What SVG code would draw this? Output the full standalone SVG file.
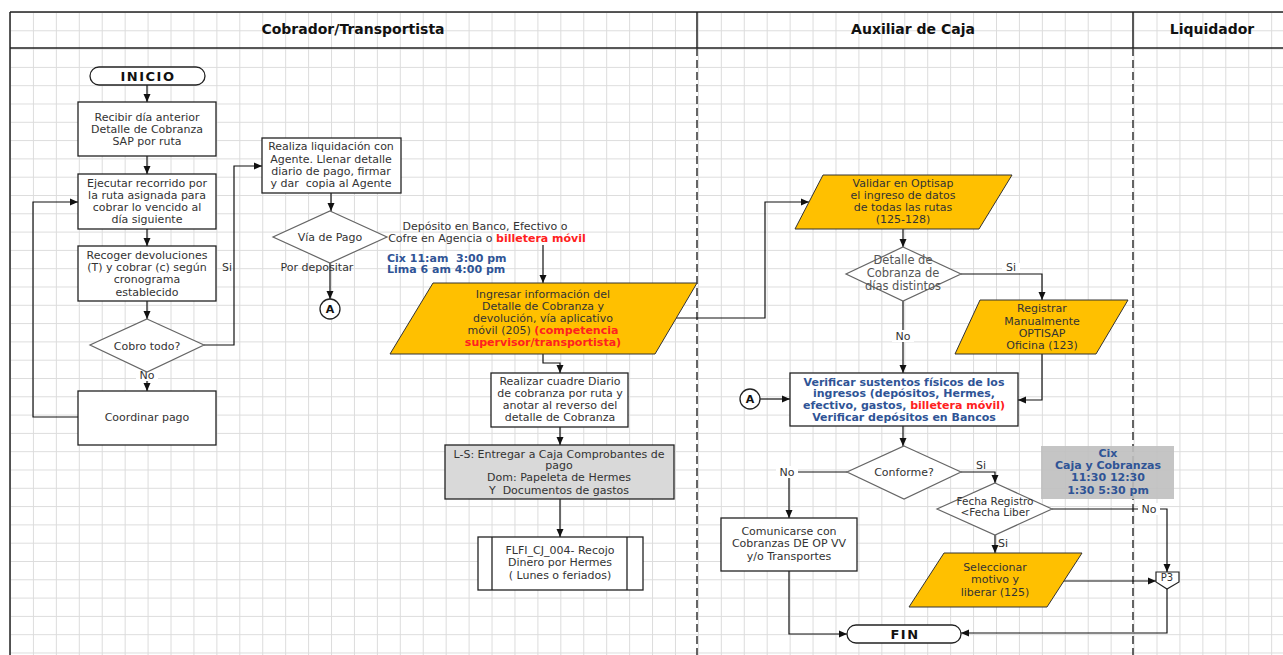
<svg xmlns="http://www.w3.org/2000/svg" width="1283" height="655" viewBox="0 0 1283 655">
<defs>
<pattern id="grid" x="10" y="12" width="22.93" height="18.3" patternUnits="userSpaceOnUse">
<path d="M0,0.5 H22.93 M0.5,0 V18.3" stroke="#dcdcdc" stroke-width="1" fill="none"/>
</pattern>
<marker id="arr" markerWidth="8" markerHeight="8" refX="8" refY="4" orient="auto" markerUnits="userSpaceOnUse">
<path d="M0,0.5 L8,4 L0,7.5 z" fill="#111"/>
</marker>
<style>
text{font-family:"DejaVu Sans","Verdana",sans-serif;font-size:11px;fill:#333;text-anchor:middle;white-space:pre}
.hdr{font-size:14px;font-weight:bold;fill:#111}
.term{font-size:13px;font-weight:bold;fill:#111;letter-spacing:1.5px}
.box{fill:#fff;stroke:#222;stroke-width:1.3}
.dia{fill:#fff;stroke:#666;stroke-width:1.2}
.io{fill:#FFC000;stroke:#333;stroke-width:1}
.gray{fill:#d9d9d9;stroke:#222;stroke-width:1.3}
.note{fill:#bfbfbf;fill-opacity:0.9;stroke:none}
.blue{fill:#2F5496;font-weight:bold}
.red{fill:#FF2020;font-weight:bold}
.lbl{fill:#333}
.lbg{fill:#fff}
.conn path{fill:none;stroke:#111;stroke-width:1.2}
.lane{stroke:#222;stroke-width:1.5}
.dash{stroke:#333;stroke-width:1.5;stroke-dasharray:8,4}
</style>
</defs>
<rect width="1283" height="655" fill="#fff"/>
<rect x="10" y="12" width="1273" height="643" fill="url(#grid)"/>
<g id="lanes">
<line class="lane" x1="10" y1="12" x2="1283" y2="12"/>
<line class="lane" x1="10" y1="48" x2="1283" y2="48"/>
<line class="lane" x1="10" y1="12" x2="10" y2="655"/>
<line class="lane" x1="697" y1="12" x2="697" y2="48"/>
<line class="lane" x1="1133" y1="12" x2="1133" y2="48"/>
<line class="dash" x1="697" y1="48" x2="697" y2="655"/>
<line class="dash" x1="1133" y1="48" x2="1133" y2="655"/>
<text class="hdr" x="353" y="34">Cobrador/Transportista</text>
<text class="hdr" x="913" y="34">Auxiliar de Caja</text>
<text class="hdr" x="1212" y="34">Liquidador</text>
</g>
<g class="conn" id="connectors">
<path d="M147,85 V102" marker-end="url(#arr)"/>
<path d="M147,156 V174" marker-end="url(#arr)"/>
<path d="M147,229 V246" marker-end="url(#arr)"/>
<path d="M147,301 V319" marker-end="url(#arr)"/>
<path d="M147,372 V391" marker-end="url(#arr)"/>
<path d="M78,417 H33 V202 H78" marker-end="url(#arr)"/>
<path d="M204,345 H234 V166 H262" marker-end="url(#arr)"/>
<path d="M331,193 V211" marker-end="url(#arr)"/>
<path d="M330,263 V299" marker-end="url(#arr)"/>
<path d="M543,245 V283" marker-end="url(#arr)"/>
<path d="M543,354 V363 H560 V373" marker-end="url(#arr)"/>
<path d="M676,318 H765 V202 H809" marker-end="url(#arr)"/>
<path d="M560,427 V445" marker-end="url(#arr)"/>
<path d="M560,499 V537" marker-end="url(#arr)"/>
<path d="M903,229 V247" marker-end="url(#arr)"/>
<path d="M961,274 H1042 V300" marker-end="url(#arr)"/>
<path d="M903,301 V373" marker-end="url(#arr)"/>
<path d="M1042,354 V400 H1018" marker-end="url(#arr)"/>
<path d="M760,399 H790" marker-end="url(#arr)"/>
<path d="M903,426 V446" marker-end="url(#arr)"/>
<path d="M847,472 H789 V518" marker-end="url(#arr)"/>
<path d="M789,571 V634 H847" marker-end="url(#arr)"/>
<path d="M961,472 H995 V483" marker-end="url(#arr)"/>
<path d="M995,535 V553" marker-end="url(#arr)"/>
<path d="M1052,509 H1167 V572" marker-end="url(#arr)"/>
<path d="M1064,581 H1156" marker-end="url(#arr)"/>
<path d="M1167,589 V633 H961" marker-end="url(#arr)"/>
<rect class="lbg" x="136" y="369" width="22" height="12"/>
<text class="lbl" x="147" y="379">No</text>
<text class="lbl" x="227" y="271">Si</text>
<rect class="lbg" x="1002" y="263" width="18" height="10"/>
<text class="lbl" x="1011" y="271">Si</text>
<rect class="lbg" x="892" y="330" width="22" height="12"/>
<text class="lbl" x="903" y="340">No</text>
<rect class="lbg" x="776" y="466" width="22" height="12"/>
<text class="lbl" x="787" y="476">No</text>
<text class="lbl" x="981" y="469">Si</text>
<text class="lbl" x="1003" y="547">Si</text>
<rect class="lbg" x="1138" y="503" width="22" height="12"/>
<text class="lbl" x="1149" y="513">No</text>
</g>
<g id="inicio">
<rect x="90" y="67" width="115" height="18" rx="9" class="box"/>
<text class="term" x="148" y="81">INICIO</text>
</g>
<g id="recibir">
<rect class="box" x="78" y="102" width="138" height="54"/>
<text x="147" y="121">Recibir día anterior</text>
<text x="147" y="133">Detalle de Cobranza</text>
<text x="147" y="145">SAP por ruta</text>
</g>
<g id="ejecutar">
<rect class="box" x="78" y="174" width="138" height="55"/>
<text x="147" y="187">Ejecutar recorrido por</text>
<text x="147" y="199">la ruta asignada para</text>
<text x="147" y="211">cobrar lo vencido al</text>
<text x="147" y="223">día siguiente</text>
</g>
<g id="recoger">
<rect class="box" x="78" y="246" width="138" height="55"/>
<text x="147" y="259">Recoger devoluciones</text>
<text x="147" y="271">(T) y cobrar (c) según</text>
<text x="147" y="283">cronograma</text>
<text x="147" y="296">establecido</text>
</g>
<g id="cobro-todo">
<polygon class="dia" points="147,319 204,345 147,372 90,345"/>
<text x="147" y="350">Cobro todo?</text>
</g>
<g id="coordinar">
<rect class="box" x="78" y="391" width="138" height="54"/>
<text x="147" y="421">Coordinar pago</text>
</g>
<g id="realiza">
<rect class="box" x="262" y="138" width="139" height="55"/>
<text x="331" y="150">Realiza liquidación con</text>
<text x="331" y="163">Agente. Llenar detalle</text>
<text x="331" y="175">diario de pago, firmar</text>
<text x="331" y="187">y dar&#160; copia al Agente</text>
</g>
<g id="via-pago">
<polygon class="dia" points="330,211 387,237 330,263 273,237"/>
<text x="330" y="241">Vía de Pago</text>
<text x="317" y="271">Por depositar</text>
</g>
<g id="conector-a1">
<circle cx="330" cy="309" r="10" fill="#fff" stroke="#222" stroke-width="1.3"/>
<text x="330" y="313" style="font-weight:bold;fill:#111">A</text>
</g>
<g id="deposito-label">
<text x="485" y="230">Depósito en Banco, Efectivo o</text>
<text x="487" y="242">Cofre en Agencia o <tspan class="red">billetera móvil</tspan></text>
<text class="blue" x="387" y="262" style="text-anchor:start">Cix 11:am&#160; 3:00 pm</text>
<text class="blue" x="387" y="273" style="text-anchor:start">Lima 6 am 4:00 pm</text>
</g>
<g id="ingresar">
<polygon class="io" points="433,283 697,283 655,354 390,354"/>
<text x="543" y="298">Ingresar información del</text>
<text x="543" y="310">Detalle de Cobranza y</text>
<text x="543" y="322">devolución, vía aplicativo</text>
<text x="543" y="334">móvil (205) <tspan class="red">(competencia</tspan></text>
<text class="red" x="543" y="346">supervisor/transportista)</text>
</g>
<g id="cuadre">
<rect class="box" x="491" y="373" width="137" height="54"/>
<text x="560" y="385">Realizar cuadre Diario</text>
<text x="560" y="397">de cobranza por ruta y</text>
<text x="560" y="409">anotar al reverso del</text>
<text x="560" y="421">detalle de Cobranza</text>
</g>
<g id="entregar">
<rect class="gray" x="445" y="445" width="229" height="54"/>
<text x="559" y="458">L-S: Entregar a Caja Comprobantes de</text>
<text x="559" y="469">pago</text>
<text x="559" y="481">Dom: Papeleta de Hermes</text>
<text x="559" y="494">Y&#160; Documentos de gastos</text>
</g>
<g id="flfi">
<rect class="box" x="478" y="537" width="165" height="53"/>
<line x1="492" y1="537" x2="492" y2="590" stroke="#222" stroke-width="1.3"/>
<line x1="627" y1="537" x2="627" y2="590" stroke="#222" stroke-width="1.3"/>
<text x="560" y="554">FLFI_CJ_004- Recojo</text>
<text x="560" y="566">Dinero por Hermes</text>
<text x="560" y="579">( Lunes o feriados)</text>
</g>
<g id="validar">
<polygon class="io" points="823,175 1012,175 979,229 795,229"/>
<text x="903" y="187">Validar en Optisap</text>
<text x="903" y="199">el ingreso de datos</text>
<text x="903" y="211">de todas las rutas</text>
<text x="903" y="223">(125-128)</text>
</g>
<g id="detalle-dias">
<polygon class="dia" points="903,247 961,274 903,301 846,274"/>
<text x="903" y="264" style="fill:#555;font-size:11.5px">Detalle de</text>
<text x="903" y="277" style="fill:#555;font-size:11.5px">Cobranza de</text>
<text x="903" y="290" style="fill:#555;font-size:11.5px">días distintos</text>
</g>
<g id="registrar">
<polygon class="io" points="980,300 1128,300 1096,354 955,354"/>
<text x="1042" y="312">Registrar</text>
<text x="1042" y="325">Manualmente</text>
<text x="1042" y="337">OPTISAP</text>
<text x="1042" y="349">Oficina (123)</text>
</g>
<g id="conector-a2">
<circle cx="750" cy="399" r="10" fill="#fff" stroke="#222" stroke-width="1.3"/>
<text x="750" y="403" style="font-weight:bold;fill:#111">A</text>
</g>
<g id="verificar">
<rect class="box" x="790" y="373" width="228" height="53"/>
<text class="blue" x="904" y="386">Verificar sustentos físicos de los</text>
<text class="blue" x="904" y="397">ingresos (depósitos, Hermes,</text>
<text class="blue" x="904" y="409">efectivo, gastos, <tspan class="red">billetera móvil)</tspan></text>
<text class="blue" x="904" y="421">Verificar depósitos en Bancos</text>
</g>
<g id="conforme">
<polygon class="dia" points="904,446 961,472 904,499 847,472"/>
<text x="904" y="476">Conforme?</text>
</g>
<g id="comunicarse">
<rect class="box" x="721" y="518" width="136" height="53"/>
<text x="789" y="535">Comunicarse con</text>
<text x="789" y="547">Cobranzas DE OP VV</text>
<text x="789" y="560">y/o Transportes</text>
</g>
<g id="fecha">
<polygon class="dia" points="995,483 1052,509 995,535 937,509"/>
<text x="995" y="505" style="font-size:10.5px">Fecha Registro</text>
<text x="995" y="516" style="font-size:10.5px">&lt;Fecha Liber</text>
</g>
<g id="seleccionar">
<polygon class="io" points="944,553 1082,553 1047,607 909,607"/>
<text x="995" y="571">Seleccionar</text>
<text x="995" y="583">motivo y</text>
<text x="995" y="596">liberar (125)</text>
</g>
<g id="nota-cix">
<rect class="note" x="1041" y="446" width="133" height="53"/>
<text class="blue" x="1108" y="457">Cix</text>
<text class="blue" x="1108" y="469">Caja y Cobranzas</text>
<text class="blue" x="1108" y="481">11:30 12:30</text>
<text class="blue" x="1108" y="494">1:30 5:30 pm</text>
</g>
<g id="p3">
<polygon points="1156,572 1179,572 1179,582 1167,589 1156,582" fill="#fff" stroke="#222" stroke-width="1.2"/>
<text x="1167" y="581" style="font-size:10px">P3</text>
</g>
<g id="fin">
<rect x="847" y="625" width="114" height="18" rx="9" class="box"/>
<text class="term" x="905" y="639">FIN</text>
</g>
</svg>
